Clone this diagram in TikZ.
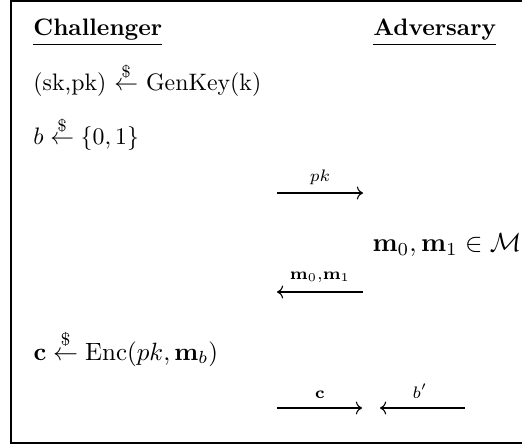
\documentclass[tikz,border=0pt]{standalone}
\usepackage{amsmath}
\usetikzlibrary{arrows.meta}
\newcommand{\rnd}{\mathrel{\overset{\$}{\leftarrow}}}
\begin{document}
\begin{tikzpicture}[x=0.42pt,y=-0.42pt,
  txt/.style={anchor=base west, inner sep=0pt},
  lbl/.style={anchor=base, inner sep=0pt, font=\scriptsize},
  msg/.style={-{To}, line width=0.45pt},
  frame/.style={line width=0.7pt}]
\useasboundingbox (0,0) rectangle (522,445);
\draw[frame] (11,1) rectangle (545,443);
\node[txt] (chal) at (33,36) {\underline{\textbf{Challenger}}};
\node[txt] (adv) at (373,36) {\underline{\textbf{Adversary}}};
\node[txt] (gen) at (33,91) {(sk,pk) $\rnd$ GenKey(k)};
\node[txt] (bit) at (33,145) {$b \rnd \{0,1\}$};
\coordinate (a1s) at (277,193);
\coordinate (a1e) at (363,193);
\draw[msg] (a1s) -- (a1e);
\node[lbl] (l1) at (320,181) {$pk$};
\node[txt, scale=1.1] (msp) at (372,252) {$\mathbf{m}_0,\mathbf{m}_1\in\mathcal{M}$};
\coordinate (a2s) at (363,292);
\coordinate (a2e) at (277,292);
\draw[msg] (a2s) -- (a2e);
\node[lbl] (l2) at (320,279) {$\mathbf{m}_0{,}\mathbf{m}_1$};
\node[txt, scale=1.05] (enc) at (33,360) {$\mathbf{c}\rnd\mathrm{Enc}(pk,\mathbf{m}_b)$};
\coordinate (a3s) at (277,408);
\coordinate (a3e) at (362,408);
\draw[msg] (a3s) -- (a3e);
\node[lbl] (l3) at (320,398) {$\mathbf{c}$};
\coordinate (a4s) at (465,408);
\coordinate (a4e) at (380,408);
\draw[msg] (a4s) -- (a4e);
\node[lbl] (l4) at (420,398) {$b'$};
\end{tikzpicture}
\end{document}
